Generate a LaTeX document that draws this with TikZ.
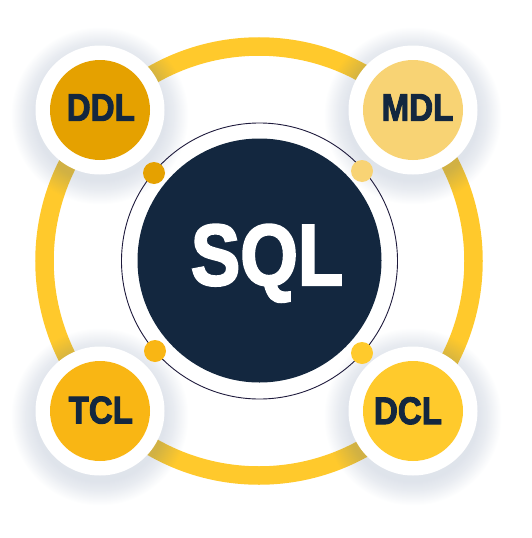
\documentclass[tikz,border=0pt]{standalone}
\usepackage{fontspec}
\newfontfamily\heavyfont{Liberation Sans}[BoldFeatures={FakeBold=2.8}]
\definecolor{ringyellow}{HTML}{FFC92C}
\definecolor{navy}{HTML}{13273F}
\definecolor{outlinec}{HTML}{1E1A3C}
\definecolor{ddlc}{HTML}{E5A100}
\definecolor{mdlc}{HTML}{F8D374}
\definecolor{tclc}{HTML}{F9B614}
\definecolor{dclc}{HTML}{FFCA2C}
\definecolor{shadowc}{HTML}{7F90AE}
\tikzset{
  whitedisk/.style={circle, fill=white, minimum size=129pt, inner sep=0pt},
  colordisk/.style={circle, minimum size=100pt, inner sep=0pt},
  dotc/.style={circle, minimum size=22pt, inner sep=0pt},
  labeltext/.style={anchor=base, text=navy, font=\heavyfont\bfseries\fontsize{38.3}{40}\selectfont, inner sep=0pt},
  sqltext/.style={anchor=base, text=white, font=\heavyfont\bfseries\fontsize{86.6}{90}\selectfont, inner sep=0pt},
}
\begin{document}
\begin{tikzpicture}[x=1pt, y=-1pt]
\useasboundingbox (0,0) rectangle (531,538);
% big ring
\coordinate (ctr) at (259,261);
\draw[ringyellow, line width=18.5pt] (ctr) circle[radius=214.5pt];
% shadows
\foreach \p in {(100,110),(413,110),(100,411),(413,411)} {
  \foreach \i in {1,...,24} {
    \fill[shadowc, opacity=0.010] \p ++(0,6) circle[radius=64.5pt+\i pt];
  }
}
% satellites
\node[whitedisk] (ddlw) at (100,110) {};
\node[whitedisk] (mdlw) at (413,110) {};
\node[whitedisk] (tclw) at (100,411) {};
\node[whitedisk] (dclw) at (413,411) {};
\node[colordisk, fill=ddlc] (ddl) at (ddlw.center) {};
\node[colordisk, fill=mdlc] (mdl) at (mdlw.center) {};
\node[colordisk, fill=tclc] (tcl) at (tclw.center) {};
\node[colordisk, fill=dclc] (dcl) at (dclw.center) {};
% central
\node[circle, draw=outlinec, line width=0.9pt, minimum size=276pt, inner sep=0pt] (outline) at (259.5,261) {};
\node[circle, fill=navy, minimum size=244pt, inner sep=0pt] (sql) at (259.5,260.5) {};
% dots
\node[dotc, fill=ddlc] (dot1) at (154,173) {};
\node[dotc, fill=mdlc] (dot2) at (362,171) {};
\node[dotc, fill=tclc] (dot3) at (155,351) {};
\node[dotc, fill=dclc] (dot4) at (362,353) {};
% texts
\node[labeltext] (tddl) at (100.8,120.7) {\scalebox{0.865}[1]{DDL}};
\node[labeltext] (tmdl) at (417.5,120.7) {\scalebox{0.865}[1]{MDL}};
\node[labeltext] (ttcl) at (100.8,423.3) {\scalebox{0.865}[1]{TCL}};
\node[labeltext] (tdcl) at (408,424) {\scalebox{0.865}[1]{DCL}};
\node[sqltext] (tsql) at (267,285) {\scalebox{0.855}[1]{SQL}};
\end{tikzpicture}
\end{document}
